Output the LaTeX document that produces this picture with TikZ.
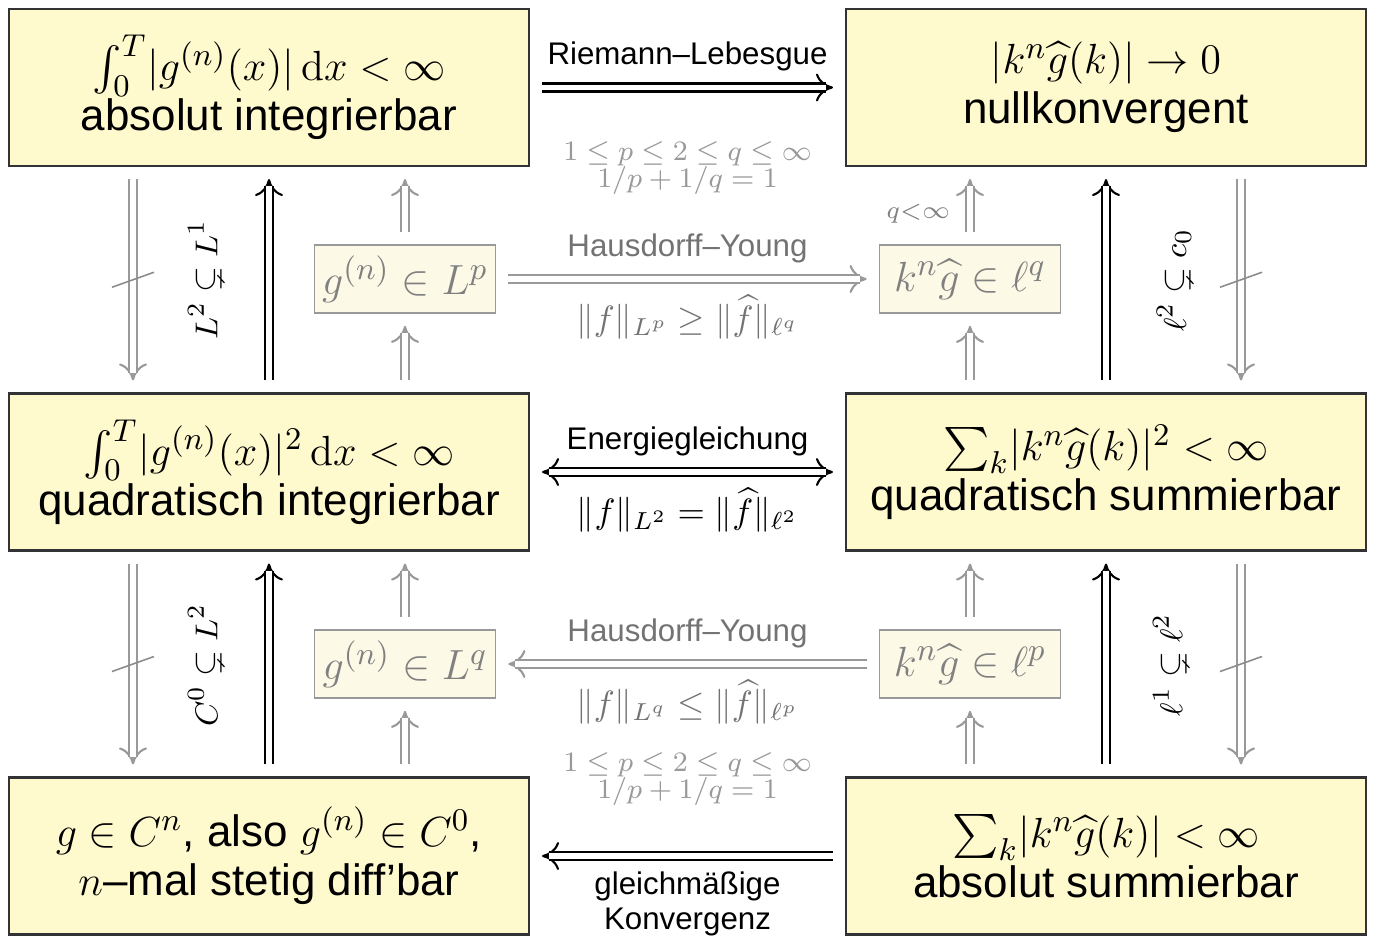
\documentclass[tikz,border=0pt]{standalone}
\usepackage{amsmath,amssymb}
\usepackage[no-math]{fontspec}
\setmainfont{Liberation Sans}
\usetikzlibrary{arrows.meta}
\definecolor{boxfill}{RGB}{255,249,206}
\definecolor{smallfill}{RGB}{252,250,230}
\setlength{\lineskiplimit}{-8pt}
\begin{document}
\begin{tikzpicture}[imphead/.tip={Computer Modern Rightarrow[length=1.7mm, width=2.8mm]},
  bigbox/.style={draw=black!80, line width=0.6pt, fill=boxfill, minimum width=5.2cm, minimum height=1.57cm, align=center,
    font=\fontsize{12.5}{14.2}\selectfont},
  smallbox/.style={draw=black!40, line width=0.5pt, fill=smallfill, text=black!50, minimum width=1.81cm, minimum height=0.68cm,
    inner sep=1pt, font=\fontsize{12.7}{15}\selectfont},
  dbl/.style n args={3}{postaction={draw=#1, double=white, double distance=1.7pt, line width=0.6pt, arrows=-,
    shorten <=#2, shorten >=#3}},
  imp/.style={draw=black, line width=0.6pt, arrows={-imphead}, shorten >=1.2mm, shorten <=1.2mm, dbl={black}{1.2mm}{1.9mm}},
  gimp/.style={draw=black!40, line width=0.6pt, arrows={-imphead}, shorten >=1.2mm, shorten <=1.2mm, dbl={black!40}{1.2mm}{1.9mm}},
  bimp/.style={draw=black, line width=0.6pt, arrows={imphead-imphead}, shorten >=1.2mm, shorten <=1.2mm, dbl={black}{1.9mm}{1.9mm}},
  slash/.style={draw=black!45, line width=0.45pt},
  lab/.style={font=\fontsize{8.9}{9.8}\selectfont, align=center},
  mlab/.style={font=\fontsize{10.4}{12}\selectfont},
  rlab/.style={font=\fontsize{9.5}{11}\selectfont, rotate=90},
  cond/.style={font=\fontsize{8.3}{7.7}\selectfont, text=black!40, align=center},
]
\useasboundingbox (0,0) rectangle (13.74,9.37);
% big boxes
\node[bigbox] (tl) at (2.69,8.495) {$\int_0^T\lvert g^{(n)}(x)\rvert\,\mathrm{d}x<\infty$\\absolut integrierbar};
\node[bigbox] (tr) at (11.06,8.495) {$\lvert k^n\widehat{g}(k)\rvert\to0$\\nullkonvergent};
\node[bigbox] (ml) at (2.69,4.65) {$\int_0^T\lvert g^{(n)}(x)\rvert^2\,\mathrm{d}x<\infty$\\quadratisch integrierbar};
\node[bigbox] (mr) at (11.06,4.65) {$\sum_k\lvert k^n\widehat{g}(k)\rvert^2<\infty$\\quadratisch summierbar};
\node[bigbox] (bl) at (2.69,0.81) {$g\in C^n$, also $g^{(n)}\in C^0$,\\$n$--mal stetig diff'bar};
\node[bigbox] (br) at (11.06,0.81) {$\sum_k\lvert k^n\widehat{g}(k)\rvert<\infty$\\absolut summierbar};
% small boxes
\node[smallbox] (gp) at (4.05,6.58) {$g^{(n)}\in L^p$};
\node[smallbox] (kq) at (9.70,6.58) {$k^n\widehat{g}\in\ell^q$};
\node[smallbox] (gq) at (4.05,2.73) {$g^{(n)}\in L^q$};
\node[smallbox] (kp) at (9.70,2.73) {$k^n\widehat{g}\in\ell^p$};
% conditions
\node[cond] (c1) at (6.875,7.69) {$1\le p\le 2\le q\le\infty$\\$1/p+1/q=1$};
\node[cond] (c2) at (6.875,1.575) {$1\le p\le 2\le q\le\infty$\\$1/p+1/q=1$};
% horizontal
\draw[imp] (tl) -- node[lab, above=1pt] {Riemann--Lebesgue} (tr);
\draw[gimp] (gp) -- node[lab, text=black!55, above=1pt] {Hausdorff--Young}
  node[mlab, text=black!55, below=1pt] {$\lVert f\rVert_{L^p}\ge\lVert\widehat{f}\rVert_{\ell^q}$} (kq);
\draw[bimp] (ml) -- node[lab, above=1pt] {Energiegleichung}
  node[mlab, below=1pt] {$\lVert f\rVert_{L^2}=\lVert\widehat{f}\rVert_{\ell^2}$} (mr);
\draw[gimp] (kp) -- node[lab, text=black!55, above=1pt] {Hausdorff--Young}
  node[mlab, text=black!55, below=1pt] {$\lVert f\rVert_{L^q}\le\lVert\widehat{f}\rVert_{\ell^p}$} (gq);
\draw[imp] (br) -- node[lab, below=1pt] {gleichmäßige\\Konvergenz} (bl);
% upper verticals
\draw[gimp] ([xshift=-1.36cm]tl.south) -- coordinate[midway] (x1) ([xshift=-1.36cm]ml.north);
\draw[slash] ([shift={(-0.21,-0.075)}]x1) -- ([shift={(0.21,0.075)}]x1);
\node[rlab] (s1) at (2.05,6.57) {$L^2\subsetneq L^1$};
\draw[imp] (ml) -- (tl);
\draw[gimp] (gp) -- (gp |- tl.south);
\draw[gimp] (gp |- ml.north) -- (gp);
\draw[gimp] (kq) -- node[midway, left=2pt, yshift=-0.8mm, font=\fontsize{7.5}{9}\selectfont, text=black!50] {$q{<}\infty$} (kq |- tr.south);
\draw[gimp] (kq |- mr.north) -- (kq);
\draw[imp] (mr) -- (tr);
\node[rlab] (s2) at (11.74,6.57) {$\ell^2\subsetneq c_0$};
\draw[gimp] ([xshift=1.35cm]tr.south) -- coordinate[midway] (x2) ([xshift=1.35cm]mr.north);
\draw[slash] ([shift={(-0.21,-0.075)}]x2) -- ([shift={(0.21,0.075)}]x2);
% lower verticals
\draw[gimp] ([xshift=-1.36cm]ml.south) -- coordinate[midway] (x3) ([xshift=-1.36cm]bl.north);
\draw[slash] ([shift={(-0.21,-0.075)}]x3) -- ([shift={(0.21,0.075)}]x3);
\node[rlab] (s3) at (2.05,2.72) {$C^0\subsetneq L^2$};
\draw[imp] (bl) -- (ml);
\draw[gimp] (gq) -- (gq |- ml.south);
\draw[gimp] (gq |- bl.north) -- (gq);
\draw[gimp] (kp) -- (kp |- mr.south);
\draw[gimp] (kp |- br.north) -- (kp);
\draw[imp] (br) -- (mr);
\node[rlab] (s4) at (11.70,2.72) {$\ell^1\subsetneq\ell^2$};
\draw[gimp] ([xshift=1.35cm]mr.south) -- coordinate[midway] (x4) ([xshift=1.35cm]br.north);
\draw[slash] ([shift={(-0.21,-0.075)}]x4) -- ([shift={(0.21,0.075)}]x4);
\end{tikzpicture}
\end{document}
